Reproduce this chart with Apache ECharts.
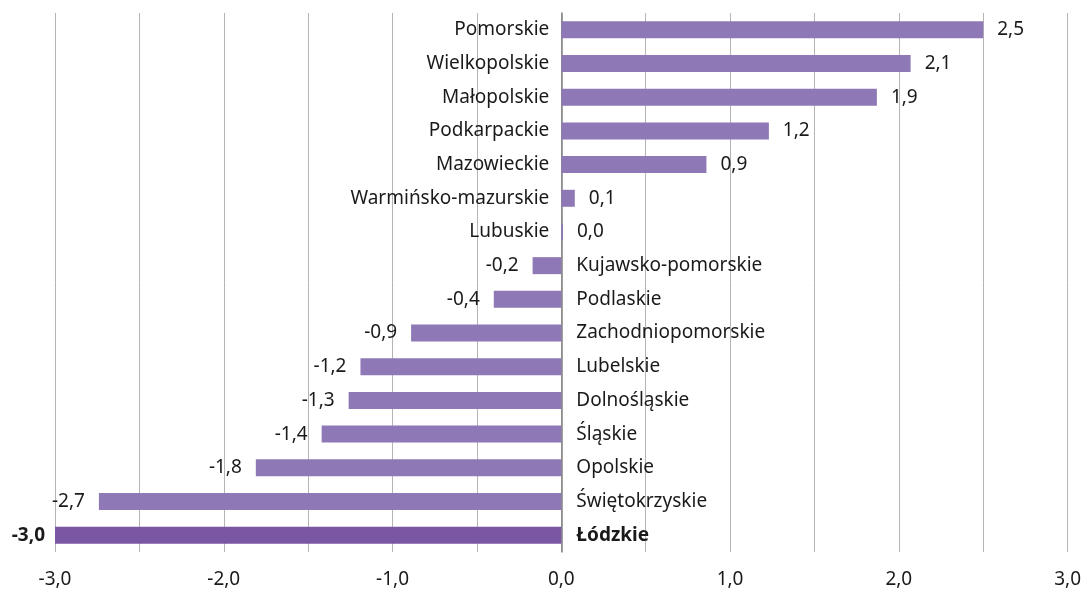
<!DOCTYPE html>
<html>
<head>
<meta charset="utf-8">
<script src="https://cdn.jsdelivr.net/npm/echarts@6/dist/echarts.min.js"></script>
<style>
  html, body { margin: 0; padding: 0; background: #fff; }
  #main { width: 1084px; height: 591px; }
</style>
</head>
<body>
<div id="main"></div>
<script>
const regions = ['Pomorskie', 'Wielkopolskie', 'Małopolskie', 'Podkarpackie', 'Mazowieckie',
  'Warmińsko-mazurskie', 'Lubuskie', 'Kujawsko-pomorskie', 'Podlaskie', 'Zachodniopomorskie',
  'Lubelskie', 'Dolnośląskie', 'Śląskie', 'Opolskie', 'Świętokrzyskie', 'Łódzkie']
const values = [2.5, 2.07, 1.87, 1.23, 0.86, 0.08, 0.01, -0.17, -0.4, -0.89,
  -1.19, -1.26, -1.42, -1.81, -2.74, -3.0]
const highlight = 'Łódzkie'
const xTicks = [-3, -2, -1, 0, 1, 2, 3]

const FONT = 'Noto Sans'
const SIZE = 19
const fmt = (v) => v.toFixed(1).replace('.', ',')

const barData = values.map((v, i) => {
  const hl = regions[i] === highlight
  return {
    value: v,
    itemStyle: { color: hl ? '#7b56a2' : '#8e78b6' },
    label: {
      position: v >= 0 ? 'right' : 'left',
      distance: hl ? 10 : 14,
      fontWeight: hl ? 'bold' : 'normal'
    }
  }
})

// zero-length helper bars that carry the region names next to the zero axis
const nameData = values.map((v, i) => ({
  value: 0,
  name: regions[i],
  label: {
    position: v >= 0 ? 'left' : 'right',
    distance: v >= 0 ? 12 : 15,
    fontWeight: regions[i] === highlight ? 'bold' : 'normal'
  }
}))

const chart = echarts.init(document.getElementById('main'))
chart.setOption({
  animation: false,
  grid: { left: 55, right: 15, top: 13, bottom: 39 },
  xAxis: {
    type: 'value',
    min: -3,
    max: 3,
    interval: 0.5,
    axisLine: { show: false },
    axisTick: { show: false },
    splitLine: { lineStyle: { color: '#b4b4b4', width: 1 } },
    axisLabel: {
      margin: 18,
      color: '#1a1a1a',
      fontFamily: FONT,
      fontSize: SIZE,
      formatter: (v) => (xTicks.includes(v) ? fmt(v) : '')
    }
  },
  yAxis: {
    type: 'category',
    inverse: true,
    data: regions,
    axisLine: { show: true, onZero: true, lineStyle: { color: '#808080', width: 1.5 } },
    axisTick: { show: false },
    axisLabel: { show: false }
  },
  series: [
    {
      type: 'bar',
      data: barData,
      barWidth: 17,
      label: {
        show: true,
        color: '#1a1a1a',
        fontFamily: FONT,
        fontSize: SIZE,
        formatter: (p) => fmt(p.value)
      }
    },
    {
      type: 'bar',
      data: nameData,
      barWidth: 17,
      barGap: '-100%',
      silent: true,
      itemStyle: { color: 'transparent' },
      label: {
        show: true,
        color: '#1a1a1a',
        fontFamily: FONT,
        fontSize: SIZE,
        formatter: (p) => p.name
      }
    }
  ]
})
</script>
</body>
</html>
